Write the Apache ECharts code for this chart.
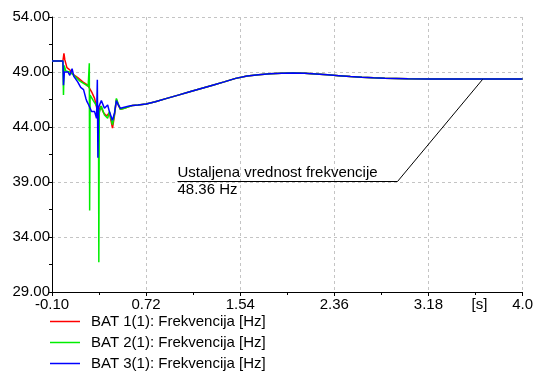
<!DOCTYPE html>
<html>
<head>
<meta charset="utf-8">
<script src="https://cdn.jsdelivr.net/npm/echarts@6/dist/echarts.min.js"></script>
<style>
html,body{margin:0;padding:0;background:#fff;}
#chart{width:536px;height:374px;}
</style>
</head>
<body>
<div id="chart"></div>
<script>
// ---- axis definitions ----
const X_MIN = -0.10, X_MAX = 4.0, X_STEP = 0.82;
const Y_MIN = 29, Y_MAX = 54, Y_STEP = 5;
const xTickLabels = ['-0.10', '0.72', '1.54', '2.36', '3.18', '4.0'];
const yTickLabels = ['29.00', '34.00', '39.00', '44.00', '49.00', '54.00'];
const xUnit = '[s]';

// ---- series ----
const seriesNames = ['BAT 1(1): Frekvencija [Hz]', 'BAT 2(1): Frekvencija [Hz]', 'BAT 3(1): Frekvencija [Hz]'];
const seriesColors = ['#ff0000', '#00ee00', '#0000ff'];

// common settled part (t >= 0.6 s)
const tailTime = [0.60, 0.65, 0.72, 0.80, 0.90, 1.00, 1.10, 1.20, 1.30, 1.40, 1.50, 1.60, 1.70, 1.80, 1.90, 2.00, 2.10, 2.20, 2.30, 2.40, 2.50, 2.60, 2.70, 2.80, 2.90, 3.00, 3.20, 3.40, 3.60, 3.80, 4.00];
const tailFreq = [45.95, 46.00, 46.10, 46.30, 46.60, 46.90, 47.20, 47.50, 47.80, 48.10, 48.42, 48.63, 48.76, 48.84, 48.88, 48.90, 48.88, 48.82, 48.74, 48.66, 48.58, 48.52, 48.47, 48.43, 48.41, 48.39, 48.37, 48.36, 48.36, 48.36, 48.36];

// transient part per battery
const bat1Time = [-0.10, -0.005, 0.004, 0.012, 0.030, 0.055, 0.081, 0.124, 0.168, 0.211, 0.245, 0.271, 0.288, 0.306, 0.323, 0.349, 0.375, 0.400, 0.427, 0.444, 0.461, 0.478, 0.496, 0.530, 0.573];
const bat1Freq = [50.0, 50.0, 50.7, 50.1, 49.4, 49.2, 48.8, 48.5, 48.1, 47.8, 47.2, 46.6, 45.8, 45.4, 45.9, 45.3, 45.0, 45.3, 43.9, 45.0, 46.5, 46.0, 45.6, 45.7, 45.85];

const bat2Time = [-0.10, -0.005, 0.000, 0.006, 0.020, 0.055, 0.100, 0.140, 0.185, 0.215, 0.225, 0.228, 0.232, 0.260, 0.290, 0.305, 0.308, 0.312, 0.330, 0.357, 0.385, 0.400, 0.427, 0.445, 0.461, 0.478, 0.496, 0.530, 0.573];
const bat2Freq = [50.0, 50.0, 46.9, 49.6, 49.1, 49.0, 48.6, 48.2, 47.9, 47.7, 49.8, 36.4, 46.9, 46.4, 45.9, 45.6, 31.7, 45.3, 45.9, 45.1, 44.8, 45.4, 44.2, 45.2, 46.6, 46.1, 45.6, 45.7, 45.85];

const bat3Time = [-0.10, -0.005, 0.000, 0.008, 0.020, 0.040, 0.055, 0.075, 0.090, 0.124, 0.150, 0.175, 0.195, 0.205, 0.220, 0.245, 0.271, 0.288, 0.295, 0.300, 0.306, 0.330, 0.357, 0.385, 0.400, 0.427, 0.445, 0.461, 0.478, 0.496, 0.530, 0.573];
const bat3Freq = [50.0, 50.0, 47.8, 49.0, 48.9, 49.0, 48.7, 49.3, 48.6, 48.1, 47.6, 47.4, 46.6, 46.3, 46.0, 45.4, 45.4, 44.8, 48.3, 41.2, 45.8, 46.4, 45.7, 46.0, 45.4, 44.6, 45.3, 46.4, 46.0, 45.7, 45.8, 45.9];

// annotation (data coordinates)
const annotText = ['Ustaljena vrednost frekvencije', '48.36 Hz'];
const annotAnchor = [3.65, 48.40];
const annotElbow = [2.904, 39.09];
const annotStart = [0.988, 39.09];

// The axes are drawn in offset units (value - axis minimum) so that the ticks start at the axis minimum.
function pairs(times, freqs) {
  return times.map((t, i) => [t - X_MIN, freqs[i] - Y_MIN]);
}
const allTimes = [bat1Time, bat2Time, bat3Time];
const allFreqs = [bat1Freq, bat2Freq, bat3Freq];

const FONT = 'Liberation Sans, Arial, sans-serif';
const chart = echarts.init(document.getElementById('chart'), null, {renderer: 'canvas'});

const series = seriesNames.map((name, k) => ({
  name: name,
  type: 'line',
  symbol: 'none',
  showSymbol: false,
  animation: false,
  lineStyle: {color: seriesColors[k], width: 1.5},
  itemStyle: {color: seriesColors[k]},
  data: pairs(allTimes[k].concat(tailTime), allFreqs[k].concat(tailFreq))
}));

chart.setOption({
  animation: false,
  backgroundColor: '#fff',
  grid: {left: 52, right: 9, top: 17, bottom: 82, containLabel: false},
  xAxis: {
    type: 'value',
    min: 0, max: X_MAX - X_MIN, interval: X_STEP,
    axisLine: {show: true, lineStyle: {color: '#000', width: 1}},
    axisTick: {show: true, inside: false, length: 4, lineStyle: {color: '#000'}},
    minorTick: {show: true, splitNumber: 2, length: 3, lineStyle: {color: '#000'}},
    axisLabel: {
      color: '#000', fontSize: 15, fontFamily: FONT, margin: 5,
      formatter: v => xTickLabels[Math.round(v / X_STEP)] || ''
    },
    splitLine: {show: true, lineStyle: {color: '#c4c4c4', type: [3, 3], width: 1}}
  },
  yAxis: {
    type: 'value',
    min: 0, max: Y_MAX - Y_MIN, interval: Y_STEP,
    axisLine: {show: true, lineStyle: {color: '#000', width: 1}},
    axisTick: {show: true, inside: false, length: 4, lineStyle: {color: '#000'}},
    minorTick: {show: true, splitNumber: 2, length: 3, lineStyle: {color: '#000'}},
    axisLabel: {
      color: '#000', fontSize: 15, fontFamily: FONT, margin: 2,
      formatter: v => yTickLabels[Math.round(v / Y_STEP)] || ''
    },
    splitLine: {show: true, lineStyle: {color: '#c4c4c4', type: [3, 3], width: 1}}
  },
  legend: {
    orient: 'vertical',
    left: 50, top: 313, padding: 0,
    icon: 'rect',
    itemWidth: 30, itemHeight: 1.5, itemGap: 4,
    textStyle: {color: '#000', fontSize: 15, fontFamily: FONT, lineHeight: 17, padding: [0, 0, 0, 6]},
    data: seriesNames
  },
  series: series
});

// annotation + unit label, positioned through the chart's own scales
function toPx(p) {
  const q = chart.convertToPixel({gridIndex: 0}, [p[0] - X_MIN, p[1] - Y_MIN]);
  return [Math.round(q[0]) + 0.5, Math.round(q[1]) + 0.5];
}
const a = toPx(annotAnchor), e = toPx(annotElbow), s = toPx(annotStart);
const u0 = chart.convertToPixel({gridIndex: 0}, [3 * X_STEP + X_STEP * 1.5, 0]);
chart.setOption({
  graphic: [
    {type: 'polyline', shape: {points: [s, e, a]}, style: {stroke: '#000', lineWidth: 1, fill: null}, z: 100},
    {type: 'text', x: s[0], y: s[1] - 1, style: {text: annotText[0], fill: '#000', font: '15px ' + FONT, textAlign: 'left', textVerticalAlign: 'bottom'}, z: 100},
    {type: 'text', x: s[0], y: s[1] + 1, style: {text: annotText[1], fill: '#000', font: '15px ' + FONT, textAlign: 'left', textVerticalAlign: 'top'}, z: 100},
    {type: 'text', x: u0[0] + 4, y: u0[1] + 5, style: {text: xUnit, fill: '#000', font: '15px ' + FONT, textAlign: 'center', textVerticalAlign: 'top'}, z: 100}
  ]
});
</script>
</body>
</html>
